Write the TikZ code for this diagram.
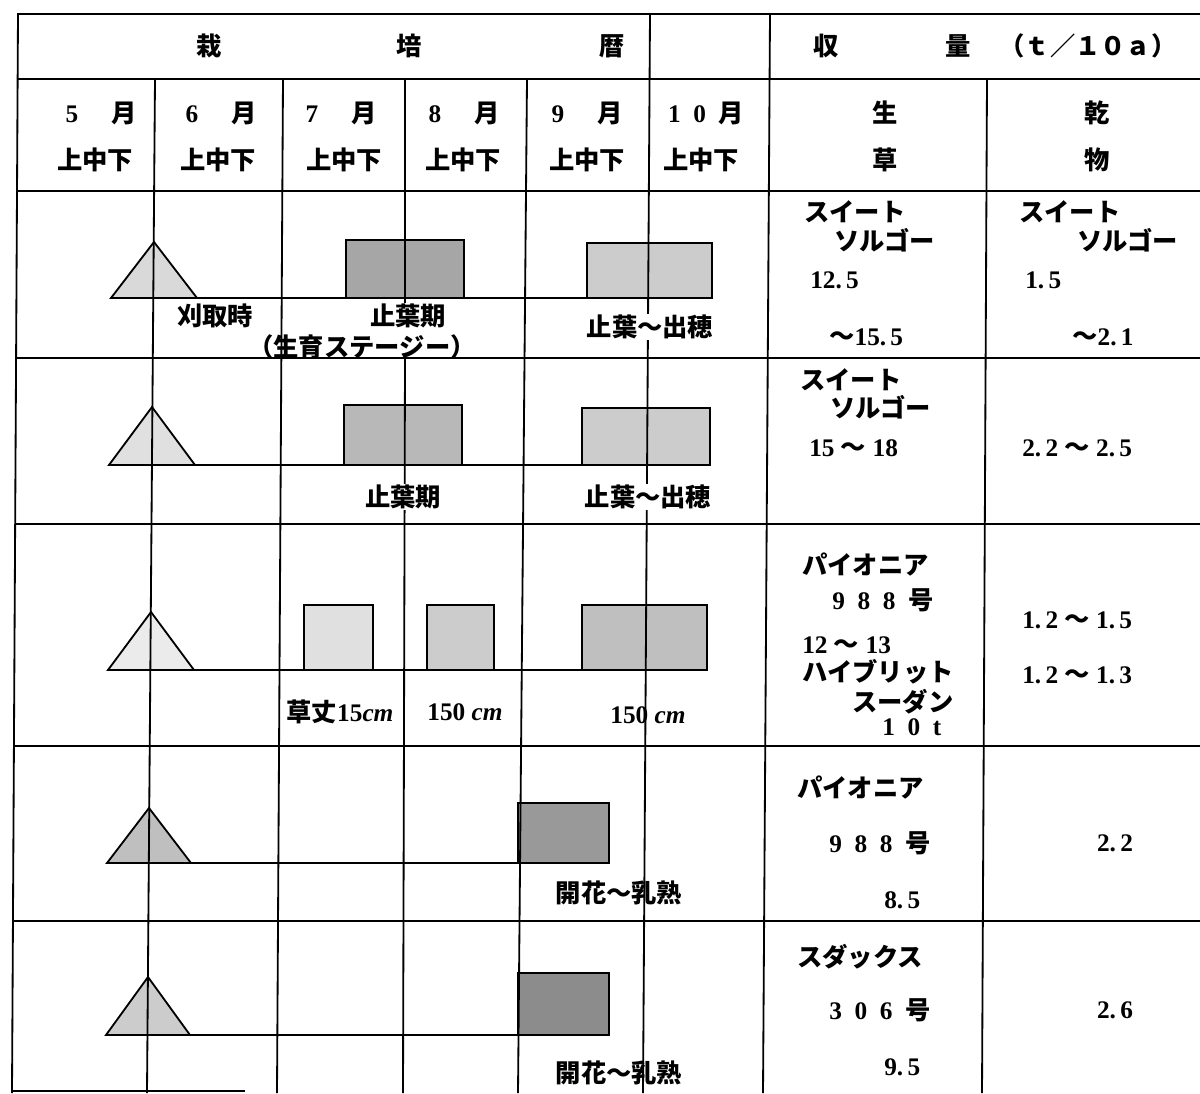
\documentclass[tikz,border=0pt]{standalone}
\usepackage{fontspec}
\setmainfont{Liberation Serif}
\newfontfamily\jp{Noto Sans CJK JP}
\begin{document}
\begin{tikzpicture}[x=0.025cm,y=-0.025cm,line width=1.3pt,
      lbl/.style={font=\fontsize{18}{20}\selectfont\bfseries,inner sep=1pt},
      cutlbl/.style={lbl,fill=white},
      leftlbl/.style={lbl,anchor=west}]
      \useasboundingbox (0,0) rectangle (1200,1093);
      \draw[fill=black!15] (111,298) -- (154,242) -- (197,298) -- cycle;
      \draw[fill=black!12] (109,465) -- (152,407) -- (195,465) -- cycle;
      \draw[fill=black!8] (108,670) -- (151,612) -- (194,670) -- cycle;
      \draw[fill=black!25] (107,863) -- (149,808) -- (191,863) -- cycle;
      \draw[fill=black!20] (106,1035) -- (148,977) -- (190,1035) -- cycle;
      \draw[fill=black!35] (346,240) rectangle (464,298);
      \draw[fill=black!20] (587,243) rectangle (712,298);
      \draw[fill=black!28] (344,405) rectangle (462,465);
      \draw[fill=black!20] (582,408) rectangle (710,465);
      \draw[fill=black!12] (304,605) rectangle (373,670);
      \draw[fill=black!20] (427,605) rectangle (494,670);
      \draw[fill=black!25] (582,605) rectangle (707,670);
      \draw[fill=black!40] (518,803) rectangle (609,863);
      \draw[fill=black!45] (518,973) rectangle (609,1035);
      \draw (197,298) -- (587,298);
      \draw (195,465) -- (582,465);
      \draw (194,670) -- (582,670);
      \draw (191,863) -- (518,863);
      \draw (190,1035) -- (518,1035);
      \draw (17,14) -- (1200,14);
      \draw (17,79) -- (1200,79);
      \draw (17,191) -- (1200,191);
      \draw (16,358) -- (1200,358);
      \draw (15,524) -- (1200,524);
      \draw (14,746) -- (1200,746);
      \draw (13,921) -- (1200,921);
      \draw (12,1091) -- (245,1091);
      \draw (18,14) -- (12,1093);
      \draw (155,79) -- (147,1093);
      \draw (283,79) -- (277,1093);
      \draw (405,79) -- (405,305);
      \draw (405,358) -- (403,1093);
      \draw (527,79) -- (518,1093);
      \draw (650,14) -- (643,1093);
      \draw (770,14) -- (763,1093);
      \draw (987,79) -- (982,1093);
      \node[lbl] (hdA) at (209,46) {\jp 栽};
      \node[lbl] (hdB) at (409,46) {\jp 培};
      \node[lbl] (hdC) at (612,46) {\jp 暦};
      \node[lbl] (hdD) at (826,46) {\jp 収};
      \node[lbl] (hdE) at (958,46) {\jp 量};
      \node[lbl] (hdF) at (1088,46) {\jp （ｔ／１０ａ）};
      \node[lbl] (mFive) at (101,113) {5\hspace{1.3em}{\jp 月}};
      \node[lbl] (mSix) at (221,113) {6\hspace{1.3em}{\jp 月}};
      \node[lbl] (mSeven) at (341,113) {7\hspace{1.3em}{\jp 月}};
      \node[lbl] (mEight) at (464,113) {8\hspace{1.3em}{\jp 月}};
      \node[lbl] (mNine) at (587,113) {9\hspace{1.3em}{\jp 月}};
      \node[lbl] (mTen) at (706,113) {1\enspace 0\enspace{\jp 月}};
      \node[lbl] (dFive) at (95,160) {\jp 上中下};
      \node[lbl] (dSix) at (218,160) {\jp 上中下};
      \node[lbl] (dSeven) at (344,160) {\jp 上中下};
      \node[lbl] (dEight) at (463,160) {\jp 上中下};
      \node[lbl] (dNine) at (587,160) {\jp 上中下};
      \node[lbl] (dTen) at (701,160) {\jp 上中下};
      \node[lbl] (hdFresh) at (885,113) {\jp 生};
      \node[lbl] (hdFresh2) at (885,160) {\jp 草};
      \node[lbl] (hdDry) at (1097,113) {\jp 乾};
      \node[lbl] (hdDry2) at (1097,160) {\jp 物};
      \node[lbl] (cutA) at (215,316) {\jp 刈取時};
      \node[cutlbl] (stageA) at (408,316) {\jp 止葉期};
      \node[lbl,inner sep=0pt] (stageNote) at (362,347) {\jp （生育ステージー）};
      \node[cutlbl] (stageB) at (650,327) {\jp 止葉〜出穂};
      \node[cutlbl] (stageC) at (403,497) {\jp 止葉期};
      \node[cutlbl] (stageD) at (648,497) {\jp 止葉〜出穂};
      \node[lbl] (hgtA) at (340,712) {{\jp 草丈}15\textit{cm}};
      \node[lbl] (hgtB) at (465,712) {150 \textit{cm}};
      \node[lbl] (hgtC) at (648,715) {150 \textit{cm}};
      \node[lbl] (flwA) at (619,893) {\jp 開花〜乳熟};
      \node[lbl] (flwB) at (619,1073) {\jp 開花〜乳熟};
      \node[leftlbl] (fA1) at (802,212) {\jp スイート};
      \node[leftlbl] (fA2) at (832,240) {\jp ソルゴー};
      \node[leftlbl] (fA3) at (808,280) {12.\,5};
      \node[leftlbl] (fA4) at (827,337) {{\jp 〜}15.\,5};
      \node[leftlbl] (dA1) at (1017,212) {\jp スイート};
      \node[leftlbl] (dA2) at (1075,240) {\jp ソルゴー};
      \node[leftlbl] (dA3) at (1023,280) {1.\,5};
      \node[leftlbl] (dA4) at (1070,337) {{\jp 〜}2.\,1};
      \node[leftlbl] (fB1) at (798,380) {\jp スイート};
      \node[leftlbl] (fB2) at (828,407) {\jp ソルゴー};
      \node[leftlbl] (fB3) at (807,448) {15 {\jp 〜} 18};
      \node[leftlbl] (dB1) at (1020,448) {2.\,2 {\jp 〜} 2.\,5};
      \node[leftlbl] (fC1) at (800,565) {\jp パイオニア};
      \node[leftlbl] (fC2) at (830,600) {9\enspace 8\enspace 8\enspace{\jp 号}};
      \node[leftlbl] (fC3) at (800,645) {12 {\jp 〜} 13};
      \node[leftlbl] (fC4) at (800,672) {\jp ハイブリット};
      \node[leftlbl] (fC5) at (850,702) {\jp スーダン};
      \node[leftlbl] (fC6) at (880,727) {1\enspace 0\enspace t};
      \node[leftlbl] (dC1) at (1020,620) {1.\,2 {\jp 〜} 1.\,5};
      \node[leftlbl] (dC2) at (1020,675) {1.\,2 {\jp 〜} 1.\,3};
      \node[leftlbl] (fD1) at (795,787) {\jp パイオニア};
      \node[leftlbl] (fD2) at (827,843) {9\enspace 8\enspace 8\enspace{\jp 号}};
      \node[leftlbl] (fD3) at (882,900) {8.\,5};
      \node[lbl] (dD1) at (1115,843) {2.\,2};
      \node[leftlbl] (fE1) at (795,957) {\jp スダックス};
      \node[leftlbl] (fE2) at (827,1010) {3\enspace 0\enspace 6\enspace{\jp 号}};
      \node[leftlbl] (fE3) at (882,1067) {9.\,5};
      \node[lbl] (dE1) at (1115,1010) {2.\,6};
    \end{tikzpicture}
\end{document}
